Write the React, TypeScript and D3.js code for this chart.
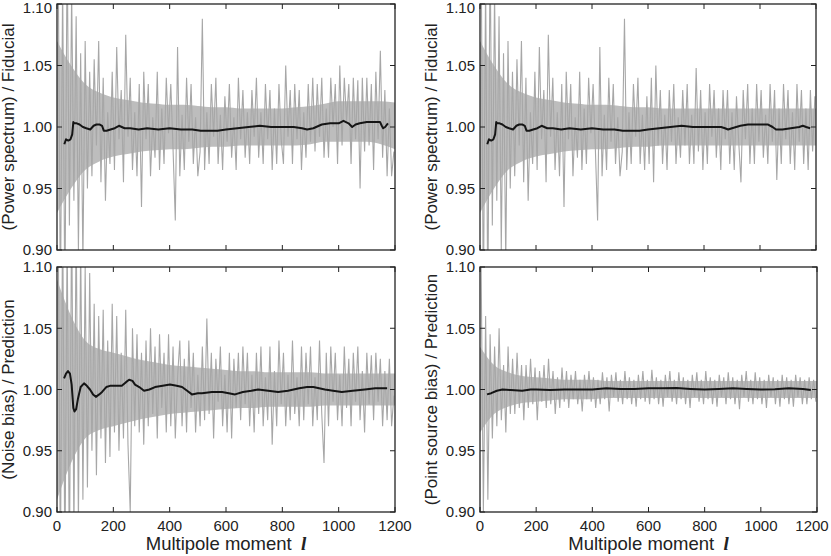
import React from "react";
import * as d3 from "d3";

// multipole sampling of the gray (per-l) curves: l = 4, 12, ..., 1196
const grayL: number[] = d3.range(4, 1200, 8);

// gray deviations from 1, in units of 0.001
const psFidA: number[] = [150,-150,120,-150,150, -80,110,-60,90,-100, 60,-110,70,-50,45, -40,55,-15,70,-45, 40,-60,12,-30,45, -35,65,-10,30,-45, 75,-8,40,-35,12, -40,35,-65,45,-10, 35,-40,8,-25,45, -35,15,-30,40,-5, 35,-18,-76,65,-40, 10,-35,40,-12,35, -30,8,-40,-20,88, -35,12,-30,35,-8, 40,-30,10,-35,25, -12,35,-25,8,-35, 40,-10,30,-25,12, -30,30,-8,40,-25, 12,-30,35,-10,30, -35,15,-30,35,-10, -30,50,-8,30,-30, 35,-10,30,-35,12, -25,35,-12,40,-20, 35,-8,40,-25,15, -25,40,0,35,-30, 50,-15,40,5,35, -30,40,-10,38,-50, 40,-20,40,-15,35, -35,45,-10,62,-25, 30,-40,15,-40,-20];
const psFidBTail: number[] = [-30,40,-45,50,-15, 30,-30,10,-35,30, -12,35,-30,8,-25, 30,-15,35,-30,10, -30,48,-20,30,-35, 12,-30,35,-8,30, -25,15,-35,30,-10, 30,-30,12,-35,25, -12,-45,30,-10,35, -30,15,-30,35,-12, 30,-25,10,-30,35, -12,30,-43,15,-30, 35,-10,30,-30,12, -35,35,-12,30,-30, 15,-35,30,-20,25];
const noiseBias: number[] = [150,-150,150,-150,130,-150,150,-120,140,-110,120,-90,100, -80,95,-50,70,-70,60,-40, 65,-60,40,-55,70,-35,60,-50,30,-40, 65,-45,-100,50,-30,45,-35,30,-45,40, -30,50,-20,35,-40,45,-15,30,-35,45, -30,35,-40,10,40,-30,25,-35,40,-15, 30,-35,12,-30,35,-25,58,-20,30,-40, 25,-10,35,-30,12,-35,30,-40,25,-15, 30,-25,35,-12,30,-30,12,-35,30,-20, 35,-30,10,-25,35,-45,15,-30,40,-12, 30,-30,12,-25,40,-20,10,-30,35,-25, 30,-12,35,-30,10,-25,40,-20,-60,30, -30,35,-10,30,-25,12,-30,35,-15,25, -30,30,-10,35,-25,15,-35,30,-12,28, -25,30,-10,25,-30,15,-25,25,-30,-5];
const pointSrcBias: number[] = [100,-100,60,-90,45, -40,35,-30,50,-25, 20,-35,35,-20,25, -20,30,-15,20,-25, 20,-15,25,-12,18,-25,15,-10,20,-15, 25,-12,15,-20,10,-15,18,-10,15,-15, 12,-8,15,-12,8,-18,12,-8,15,-10, 10,-15,8,-12,14,-8,10,-18,12,-6, 14,-10,8,-12,15,-8,10,-12,8,-14, 12,-8,15,-10,8,-12,16,-8,10,-12, 8,-14,12,-6,15,-10,8,-12,14,-8, 10,-12,8,-15,12,-6,14,-10,8,-12, 15,-8,10,-12,8,-14,12,-6,10,-12, 14,-8,10,-12,8,-16,12,-6,15,-10, 8,-12,14,-8,10,-12,8,-15,12,-6, 10,-12,8,-14,12,-8,10,-12,8,-14, 12,-6,10,-12,8,-12,10,-8,8,-10];

// dense core of the gray scatter (upper / lower edge, 0.001 units), at l = 0, 50, ..., 1200
const bandL: number[] = [0,50,100,150,200,250,300,350,400,450,500,550,600,650,700,750,800,850,900,950,1000,1050,1100,1150,1200];
const psFidAHi: number[] = [70,50,35,28,24,22,20,19,18,18,17,16,16,15,15,15,15,16,17,19,21,21,21,21,20];
const psFidALo: number[] = [-70,-50,-35,-28,-24,-22,-20,-19,-18,-18,-17,-16,-16,-15,-15,-15,-15,-15,-14,-12,-12,-12,-12,-14,-18];
const psFidBHi: number[] = [70,50,35,28,24,22,20,19,18,18,17,16,16,15,15,15,15,15,15,15,15,15,15,15,15];
const psFidBLo: number[] = [-70,-50,-35,-28,-24,-22,-20,-19,-18,-18,-17,-16,-16,-15,-15,-15,-15,-15,-15,-15,-15,-15,-15,-15,-15];
const noiseHi: number[] = [90,60,40,33,30,27,24,22,20,19,18,17,16,15,15,14,14,14,14,13,13,13,13,13,13];
const noiseLo: number[] = [-90,-60,-40,-33,-30,-27,-24,-22,-20,-19,-18,-17,-16,-15,-15,-14,-14,-14,-14,-13,-13,-13,-13,-13,-13];
const pointHi: number[] = [35,20,14,11,10,9,8,8,8,7,7,7,7,7,7,7,7,7,7,7,7,7,7,7,7];
const pointLo: number[] = [-35,-20,-14,-11,-10,-9,-8,-8,-8,-7,-7,-7,-7,-7,-7,-7,-7,-7,-7,-7,-7,-7,-7,-7,-7];

// smoothed (black) curves
const psFidAL: number[] = [26,32,40,48,54,58,62,70,80,92,104,118,130,140,152,160,166,176,190,205,220,240,260,290,320,360,400,440,480,510,540,570,600,640,680,720,760,800,840,870,888,910,940,970,1000,1017,1035,1048,1060,1075,1100,1130,1147,1153,1158,1165,1175];
const psFidAV: number[] = [0.986,0.990,0.989,0.990,0.994,1.004,1.003,1.003,1.002,1.000,0.999,0.998,1.001,1.002,1.002,1.001,0.997,0.997,0.998,0.999,1.001,0.999,0.999,0.998,0.999,0.998,0.999,0.998,0.998,0.997,0.997,0.997,0.998,0.999,1.000,1.001,1.000,1.000,1.000,0.999,0.998,0.999,1.002,1.003,1.003,1.005,1.003,1.000,1.002,1.003,1.004,1.004,1.004,1.001,0.999,1.000,1.003];
const psFidBTailL: number[] = [640,680,720,760,800,840,861,875,886,900,930,957,990,1029,1045,1057,1080,1110,1140,1153,1165,1179];
const psFidBTailV: number[] = [0.999,1.000,1.001,1.000,1.000,1.000,1.000,0.999,0.998,0.999,1.001,1.002,1.002,1.002,1.000,0.998,0.998,0.999,1.000,1.001,1.000,0.999];
const noiseL: number[] = [25,32,39,46,52,58,62,68,74,84,96,106,117,128,138,150,160,175,188,210,230,245,256,268,277,292,309,328,348,375,401,425,444,462,479,500,515,550,586,610,632,660,690,714,750,785,820,860,888,910,951,980,1011,1050,1093,1130,1172];
const noiseV: number[] = [1.009,1.013,1.015,1.013,1.004,0.985,0.982,0.984,0.992,1.002,1.005,1.003,1.000,0.996,0.994,0.996,0.998,1.002,1.003,1.003,1.003,1.006,1.008,1.007,1.004,1.002,0.999,1.000,1.002,1.003,1.004,1.003,1.002,0.999,0.996,0.997,0.997,0.998,0.998,0.997,0.996,0.998,0.999,1.000,0.999,0.998,0.999,1.001,1.002,1.002,1.000,0.999,0.998,0.999,1.000,1.001,1.001];
const pointL: number[] = [25,40,60,80,110,150,180,200,250,300,350,400,450,500,550,600,650,700,750,800,850,900,950,1000,1050,1100,1150,1178];
const pointV: number[] = [0.996,0.997,0.999,1.000,0.9995,0.999,1.000,1.000,0.9995,1.000,1.000,1.000,1.001,1.0005,1.0005,1.001,1.001,1.0012,1.0005,1.000,1.0005,1.001,1.0005,1.000,1.0003,1.001,1.0005,0.9995];

const xTicks: number[] = [0, 200, 400, 600, 800, 1000, 1200];
const yTicks: number[] = [0.9, 0.95, 1.0, 1.05, 1.1];

const FONT = "'Liberation Sans', Arial, Helvetica, sans-serif";

type PanelProps = {
  id: string;
  x0: number; x1: number; y0: number; y1: number;
  gray: number[];
  hi: number[]; lo: number[];
  blackL: number[]; blackV: number[];
  ylabel: string;
  showX: boolean;
  labelX: number;
};

function Panel(p: PanelProps) {
  const x = d3.scaleLinear().domain([0, 1200]).range([p.x0, p.x1]);
  const y = d3.scaleLinear().domain([0.9, 1.1]).range([p.y1, p.y0]);
  const grayLine = d3.line<number>().x((_, i) => x(grayL[i])).y((d) => y(1 + d / 1000));
  const blackLine = d3.line<number>().x((_, i) => x(p.blackL[i])).y((d) => y(d));
  const band = d3
    .area<number>()
    .x((_, i) => x(bandL[i]))
    .y0((d) => y(1 + d / 1000))
    .y1((_, i) => y(1 + p.hi[i] / 1000))
    .curve(d3.curveMonotoneX);
  const tl = 5;
  const fmt = d3.format(".2f");
  return (
    <g>
      <defs>
        <clipPath id={p.id}>
          <rect x={p.x0} y={p.y0} width={p.x1 - p.x0} height={p.y1 - p.y0} />
        </clipPath>
      </defs>
      <g clipPath={`url(#${p.id})`}>
        <path d={band(p.lo) || ""} fill="#bdbdbd" stroke="none" />
        <path d={grayLine(p.gray) || ""} fill="none" stroke="#a7a7a7" strokeWidth={1.1} />
        <path d={blackLine(p.blackV) || ""} fill="none" stroke="#151515" strokeWidth={2} strokeLinejoin="round" />
      </g>
      {xTicks.map((t) => (
        <g key={"xt" + t}>
          <line x1={x(t)} x2={x(t)} y1={p.y1} y2={p.y1 - tl} stroke="#222" />
          <line x1={x(t)} x2={x(t)} y1={p.y0} y2={p.y0 + tl} stroke="#222" />
          {p.showX && (
            <text x={Math.min(x(t), 812)} y={p.y1 + 19} textAnchor="middle" fontFamily={FONT} fontSize={15} fill="#222">{t}</text>
          )}
        </g>
      ))}
      {yTicks.map((t) => (
        <g key={"yt" + t}>
          <line x1={p.x0} x2={p.x0 + tl} y1={y(t)} y2={y(t)} stroke="#222" />
          <line x1={p.x1} x2={p.x1 - tl} y1={y(t)} y2={y(t)} stroke="#222" />
          <text x={p.x0 - 5} y={Math.max(y(t), 8)} dy="0.36em" textAnchor="end" fontFamily={FONT} fontSize={15} fill="#222">{fmt(t)}</text>
        </g>
      ))}
      <rect x={p.x0} y={p.y0} width={p.x1 - p.x0} height={p.y1 - p.y0} fill="none" stroke="#222" strokeWidth={1.3} />
      <text transform={`translate(${p.labelX},${(p.y0 + p.y1) / 2}) rotate(-90)`} textAnchor="middle" fontFamily={FONT} fontSize={17} fill="#222">{p.ylabel}</text>
      {p.showX && (
        <text x={(p.x0 + p.x1) / 2} y={p.y1 + 38} textAnchor="middle" fontFamily={FONT} fontSize={18.5} fill="#222">
          Multipole moment{"\u2002"}
          <tspan fontFamily="'Liberation Serif', 'Times New Roman', serif" fontStyle="italic" fontWeight="bold" fontSize={19}>l</tspan>
        </text>
      )}
    </g>
  );
}

export default function App() {
  const splitIdx = psFidAL.filter((l) => l <= 600).length;
  const psFidB = psFidA.slice(0, 75).concat(psFidBTail);
  const psFidBL = psFidAL.slice(0, splitIdx).concat(psFidBTailL);
  const psFidBV = psFidAV.slice(0, splitIdx).concat(psFidBTailV);
  return (
    <svg width={831} height={556} style={{ position: "absolute", left: 0, top: 0, background: "#fff" }}>
      <rect width={831} height={556} fill="#fff" />
      <Panel id="c1" x0={57} x1={395} y0={4} y1={250} gray={psFidA} hi={psFidAHi} lo={psFidALo} blackL={psFidAL} blackV={psFidAV} ylabel="(Power spectrum) / Fiducial" showX={false} labelX={14} />
      <Panel id="c2" x0={480} x1={816} y0={4} y1={250} gray={psFidB} hi={psFidBHi} lo={psFidBLo} blackL={psFidBL} blackV={psFidBV} ylabel="(Power spectrum) / Fiducial" showX={false} labelX={437} />
      <Panel id="c3" x0={57} x1={395} y0={267} y1={512} gray={noiseBias} hi={noiseHi} lo={noiseLo} blackL={noiseL} blackV={noiseV} ylabel="(Noise bias) / Prediction" showX={true} labelX={14} />
      <Panel id="c4" x0={480} x1={817} y0={267} y1={512} gray={pointSrcBias} hi={pointHi} lo={pointLo} blackL={pointL} blackV={pointV} ylabel="(Point source bias) / Prediction" showX={true} labelX={437} />
    </svg>
  );
}
